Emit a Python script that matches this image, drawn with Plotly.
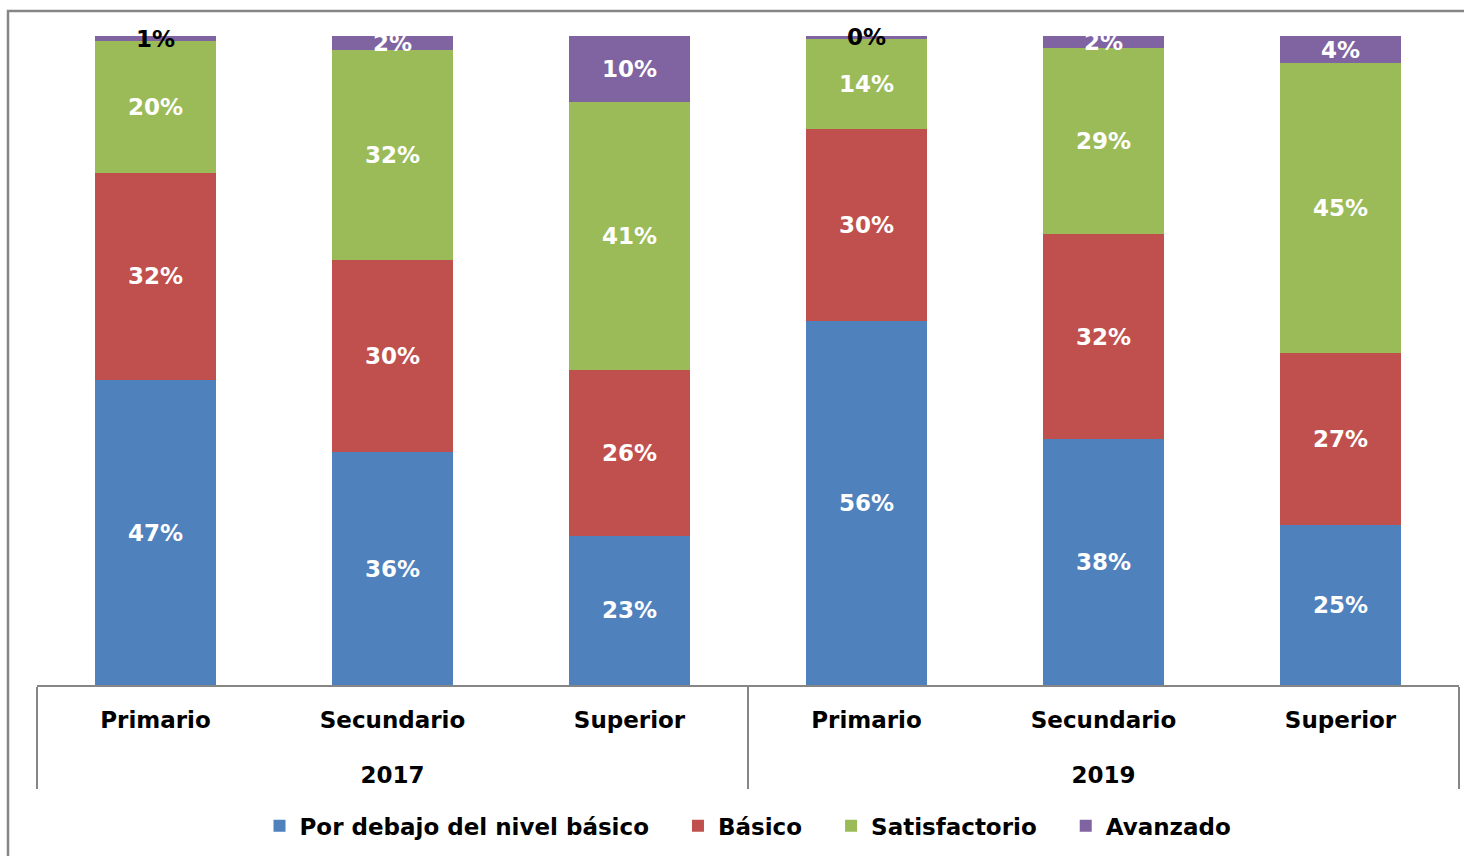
import plotly.graph_objects as go

years = ["2017", "2017", "2017", "2019", "2019", "2019"]
levels = ["Primario", "Secundario", "Superior", "Primario", "Secundario", "Superior"]

por_debajo = [47.0, 35.9, 23.0, 56.1, 37.9, 24.6]
basico = [31.9, 29.6, 25.6, 29.6, 31.6, 26.6]
satisfactorio = [20.3, 32.3, 41.2, 13.9, 28.6, 44.6]
avanzado = [0.8, 2.2, 10.2, 0.4, 1.9, 4.2]

series = [
    ("Por debajo del nivel básico", por_debajo, "#4F81BD"),
    ("Básico", basico, "#C0504D"),
    ("Satisfactorio", satisfactorio, "#9BBB59"),
    ("Avanzado", avanzado, "#8064A2"),
]
avanzado_label_colors = ["black", "white", "white", "black", "white", "white"]

FONT = "DejaVu Sans"
FS = 23
TICKFS = 27
span = "<span style='font-size:%dpx'>%%s</span>" % FS
year_labels = ["<br>" + span % y for y in years]
level_labels = [span % l for l in levels]
NB = "\u00a0" * 3

fig = go.Figure()
for i, (name, vals, color) in enumerate(series):
    tcolor = avanzado_label_colors if name == "Avanzado" else ["white"] * len(vals)
    labels = ["%.0f%%" % v for v in vals]
    fig.add_trace(go.Bar(
        x=[year_labels, level_labels], y=vals,
        name=name + (NB if i < len(series) - 1 else ""),
        marker=dict(color=color, line=dict(width=0)),
        text=labels, textposition="inside",
        insidetextanchor="middle", constraintext="none", cliponaxis=False,
        textangle=0,
        insidetextfont=dict(family=FONT, size=FS, color=tcolor, weight="bold"),
        hoverinfo="skip",
    ))

fig.update_layout(
    barmode="stack", bargap=0.49,
    width=1464, height=856,
    margin=dict(l=37, r=5, t=36, b=171),
    paper_bgcolor="white", plot_bgcolor="white",
    font=dict(family=FONT, size=FS, color="black"),
    showlegend=True,
    legend=dict(orientation="h", x=0.5, xanchor="center", y=-0.217, yanchor="middle",
                font=dict(family=FONT, size=FS, color="black", weight="bold"),
                traceorder="normal"),
    xaxis=dict(showline=True, linecolor="#868686", linewidth=2,
               showdividers=True, dividercolor="#868686", dividerwidth=2,
               ticklabelstandoff=9,
               tickfont=dict(family=FONT, size=TICKFS, color="black", weight="bold"),
               showgrid=False, zeroline=False),
    yaxis=dict(range=[0, 100.01], visible=False, showgrid=False),
    shapes=[dict(type="rect", xref="paper", yref="paper",
                 x0=(8 - 37) / 1422, x1=(1490 - 37) / 1422,
                 y0=-0.4, y1=(685 - 11) / 649,
                 line=dict(color="#868686", width=2.5), layer="below")],
)

fig.write_html("out.html", config={"displayModeBar": False},
               post_script="document.body.style.margin='0';")
